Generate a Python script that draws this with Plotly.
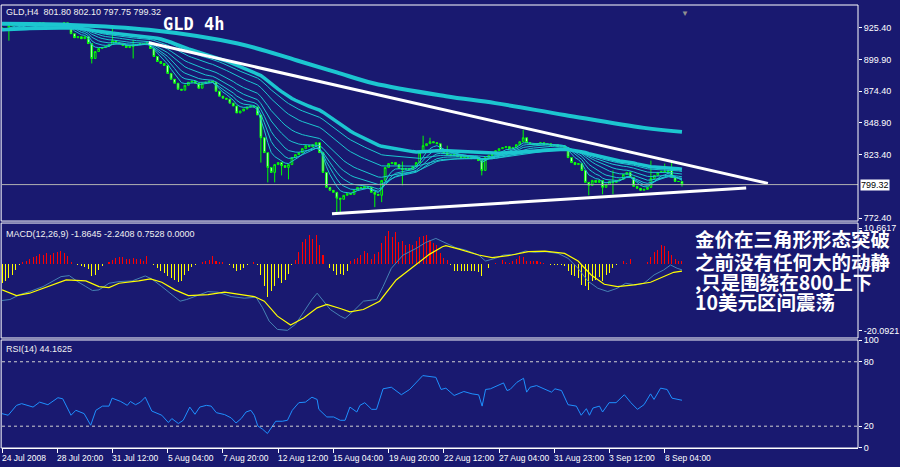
import numpy as np
import pandas as pd
import plotly.graph_objects as go

# ---------------- data ----------------
tick_bars = [0, 16, 32, 48, 64, 80, 96, 112, 128, 144, 160, 176, 192]
tick_labels = ["24 Jul 2008", "28 Jul 20:00", "31 Jul 12:00", "5 Aug 04:00", "7 Aug 20:00",
               "12 Aug 12:00", "15 Aug 04:00", "19 Aug 20:00", "22 Aug 12:00", "27 Aug 04:00",
               "31 Aug 23:00", "3 Sep 12:00", "8 Sep 04:00"]

first_open = 925.4
closes = [
    923.8, 924.6, 927.0, 927.8, 928.6, 927.8, 928.6, 929.4, 928.6, 927.8,
    928.6, 929.4, 928.6, 927.8, 928.6, 928.6, 927.8, 928.6, 929.4, 927.0,
    920.6, 917.4, 918.2, 916.6, 918.2, 912.7, 900.7, 906.3, 908.7, 909.5,
    910.3, 911.9, 915.0, 913.4, 912.7, 911.1, 909.5, 910.3, 911.1, 911.9,
    912.7, 911.9, 913.4, 908.7, 902.3, 898.3, 896.7, 895.1, 888.7, 884.0,
    880.8, 876.0, 875.2, 879.2, 881.6, 882.4, 880.8, 876.8, 880.8, 881.6,
    882.4, 881.6, 874.4, 870.4, 868.8, 868.0, 864.8, 862.5, 856.9, 858.5,
    860.1, 861.7, 862.5, 861.7, 855.3, 837.0, 825.0, 813.1, 809.1, 815.4,
    817.0, 814.6, 813.1, 815.4, 821.0, 823.4, 825.0, 828.2, 830.6, 829.8,
    831.4, 833.0, 825.0, 809.1, 797.1, 794.7, 793.1, 788.4, 787.5, 790.7,
    792.3, 791.5, 794.7, 797.1, 796.3, 797.9, 797.1, 793.1, 791.5, 790.7,
    802.7, 813.1, 816.2, 817.0, 815.4, 812.3, 811.5, 812.3, 811.5, 813.9,
    817.0, 825.0, 830.6, 832.2, 833.8, 833.0, 832.2, 826.6, 825.0, 823.4,
    822.6, 823.4, 821.8, 821.0, 821.8, 821.0, 820.2, 821.0, 818.6, 810.7,
    821.0, 822.6, 823.4, 826.6, 828.2, 829.0, 829.8, 828.2, 829.0, 831.4,
    833.8, 837.0, 833.0, 832.2, 831.4, 832.2, 833.0, 831.4, 832.2, 830.6,
    831.4, 829.8, 830.6, 829.0, 821.0, 817.0, 815.4, 816.2, 810.7, 801.1,
    798.7, 802.7, 801.1, 802.7, 797.1, 799.5, 801.9, 801.1, 802.7, 803.5,
    807.5, 809.1, 805.1, 797.9, 796.3, 794.7, 795.5, 797.1, 804.3, 806.7,
    809.1, 809.9, 809.1, 810.7, 805.1, 801.9, 801.8, 799.32,
]

high_bars = [32, 38, 116, 122, 124, 129, 151, 177, 188, 192, 194, 197]
high_vals = [924.6, 915.8, 817.8, 838.6, 837.0, 830.6, 843.3, 810.7, 818.6, 816.2, 817.0, 802.10]
low_bars = [2, 26, 38, 75, 77, 79, 81, 83, 97, 98, 108, 110, 116, 139, 170, 174, 177, 197]
low_vals = [915.0, 896.7, 900.7, 817.0, 801.1, 801.1, 806.7, 803.5, 777.2, 777.2, 781.2, 785.2,
            798.7, 806.7, 790.7, 791.5, 791.5, 797.75]

ribbon_spans = [5, 8, 12, 18, 26, 38, 50]
thick_span = 60

long_ma_bars = [0, 18.7, 42.5, 68.3, 85.5, 97, 107.6, 128.6, 142.9, 163, 186, 197]
long_ma_vals = [928.6, 927.8, 923.8, 912.7, 899.1, 889.5, 880.8, 870.4, 864.8, 855.3, 844.9, 841.7]

trend_hi_bars = [42.5, 221.9]
trend_hi_vals = [913.4, 800.3]
trend_lo_bars = [95.6, 215.6]
trend_lo_vals = [775.8, 796.6]

price_ticks = [925.40, 899.90, 874.40, 848.90, 823.40, 772.40]
last_price = 799.32

macd_hist = [
    -5.8, -5.1, -4.3, -3.3, -1.8, -0.5, 0.5, 0.9, 1.5, 1.9,
    2.2, 2.9, 2.5, 3.1, 2.7, 3.2, 3.5, 3.7, 3.2, 2.2,
    0.5, -0.1, -0.5, -0.8, -1.1, -1.5, -3.8, -3.3, -1.8, -0.8,
    -0.1, 0.5, 1.2, 1.7, 2.1, 1.9, 1.5, 1.5, 1.7, 1.4,
    1.5, 0.9, 2.2, 0.0, -0.5, -1.3, -2.1, -2.8, -3.8, -4.3,
    -4.8, -5.5, -5.1, -3.5, -2.1, -1.1, -0.5, -0.1, 0.5, 0.9,
    1.2, 2.2, 0.9, 0.5, 0.5, -0.1, -0.5, -1.3, -2.1, -1.8,
    -1.3, -0.5, 0.0, 0.5, -0.5, -3.3, -6.8, -10.0, -8.3, -6.8,
    -4.3, -5.8, -4.8, -3.1, -0.3, 1.2, 3.5, 6.5, 7.5, 8.7,
    7.5, 8.7, 5.7, 2.7, 0.0, -1.3, -2.3, -3.3, -3.1, -3.5,
    -2.3, 0.7, 1.5, 1.7, 2.7, 3.9, 3.2, 1.5, 2.9, 3.5,
    6.2, 8.2, 9.7, 7.9, 9.5, 6.5, 6.9, 5.7, 5.9, 5.5,
    6.7, 7.9, 8.2, 8.5, 7.2, 6.2, 5.5, 3.2, 1.7, 1.2,
    -0.3, -2.3, -2.1, -2.3, -2.1, -2.3, -2.1, -2.3, -2.5, -3.8,
    -0.1, -1.3, 0.0, 0.2, 0.0, 1.2, 0.5, 0.2, 0.7, 1.5,
    2.2, 1.9, 0.9, 0.9, 0.7, 0.9, 0.5, 0.2, -0.1, -0.3,
    -0.3, -0.5, -0.5, -0.8, -2.3, -3.5, -3.8, -4.3, -6.3, -6.8,
    -7.8, -5.3, -4.8, -4.1, -5.1, -3.3, -2.8, -1.3, -0.3, 0.0,
    0.9, 0.2, 1.5, -0.1, -0.1, 0.0, 0.0, 0.5, 1.9, 3.5,
    4.2, 5.5, 5.2, 3.9, 2.5, 1.5, 0.9, 0.7528,
]

macd_main_bars = [0, 2.3, 5.2, 8, 11.9, 14.7, 17.1, 19.5, 21.9, 24.3, 26.2, 28.1, 31, 33.9, 37.7,
                  41.5, 43.4, 46.3, 49.2, 51.6, 53.5, 55.9, 59.7, 62.6, 66.4, 70.2, 73.6, 75.5,
                  77.4, 79.8, 82.7, 85, 87.5, 89.8, 91.3, 93.2, 95.1, 98, 99.4, 101.8, 104.7,
                  108.5, 110.4, 112.8, 116.2, 120, 122.8, 125.7, 128.6, 131.5, 134.3, 138.1,
                  140.1, 142.9, 145.3, 148.7, 151.6, 154.4, 157.3, 161.1, 164, 166.9, 169.7,
                  172.6, 175.5, 178.3, 180.7, 183.6, 186, 188.9, 191.7, 193.7, 195.6, 197]
macd_main = [-11.1, -10.8, -9.3, -8.4, -6.9, -5.4, -3.9, -3.6, -5.4, -6.9, -8.1, -7.9, -5.9,
             -5.4, -5.2, -3.7, -4.6, -6.9, -9.3, -11.3, -10.8, -9.9, -8.4, -8.6, -9.9, -10.4,
             -10.1, -13.3, -17.3, -19.8, -20.09, -18.3, -14.3, -10.8, -8.9, -11.3, -13.8, -15.8,
             -16.5, -14.3, -11.3, -10.8, -6.9, -1.4, 2.6, 4.6, 6.4, 7.6, 6.1, 4.8, 4.1, 2.6,
             0.8, 1.6, 2.6, 2.8, 3.8, 3.4, 3.6, 3.1, 1.6, -1.4, -5.2, -7.4, -8.4, -7.4, -5.9,
             -6.4, -5.9, -3.4, -1.9, -0.4, -1.4, -1.8645]

macd_sig_bars = [0, 4.2, 8, 13.8, 18.6, 24.3, 28.1, 31, 33.9, 39.6, 43, 46.3, 50.1, 54, 59.7,
                 64.5, 69.3, 73.1, 76, 79.8, 83.6, 87.5, 91.3, 94.1, 98, 100.8, 104.7, 109.4,
                 114.2, 120, 123.8, 127.6, 128.6, 132.4, 138.1, 142, 147.7, 152.5, 157.3, 163,
                 166.9, 170.7, 174.5, 178.3, 183.1, 187.9, 191.7, 194.6, 197]
macd_signal = [-7.9, -9.6, -8.9, -6.6, -4.9, -5.2, -6.9, -7.2, -5.9, -5.2, -4.6, -5.6, -7.9,
               -9.6, -9.3, -8.6, -9.3, -9.9, -11.3, -15.8, -18.5, -16.3, -13.3, -12.3, -13.5,
               -14.5, -13.8, -11.3, -4.9, -0.4, 2.8, 5.1, 5.4, 4.4, 2.6, 1.8, 2.6, 3.6, 3.8,
               3.1, 0.8, -3.4, -6.2, -6.9, -6.4, -5.6, -3.9, -2.6, -2.2408]
macd_ticks = [10.6617, 0.0, -20.0921]

rsi_bars = [0, 1.8, 4.2, 5.7, 9.0, 10.9, 13.3, 16.2, 17.6, 20.0, 21.4, 23.8, 25.7, 27.2, 29.1,
            31.0, 31.9, 34.4, 36.3, 37.2, 38.7, 40.1, 41.5, 43.4, 46.3, 48.2, 49.2, 51.1, 52.5,
            54.4, 55.9, 57.3, 59.2, 60.6, 62.1, 64.5, 66.4, 67.8, 69.3, 70.7, 72.1, 73.1, 74.1,
            75.5, 76.9, 78.4, 79.3, 81.2, 82.7, 84.1, 85.0, 86.0, 87.9, 89.8, 91.3, 91.8, 94.1,
            96.1, 98.0, 99.4, 100.8, 102.8, 103.7, 105.1, 107.1, 108.5, 110.4, 112.8, 115.7,
            118.1, 121.9, 125.7, 127.2, 128.6, 131.0, 133.8, 136.2, 138.1, 139.1, 140.1, 141.5,
            143.4, 145.3, 146.3, 147.2, 149.2, 151.1, 152.0, 153.0, 154.9, 156.8, 159.2, 160.2,
            162.1, 164.0, 166.4, 167.8, 169.3, 170.2, 171.2, 173.1, 174.0, 175.9, 177.9, 180.3,
            182.2, 184.1, 186.0, 187.9, 188.9, 190.8, 192.7, 194.1, 196.5, 197.0]
rsi_vals = [31.7, 30.2, 39.4, 41.0, 37.8, 42.4, 40.0, 46.5, 45.5, 30.2, 34.8, 31.7, 20.9, 34.8,
            38.7, 38.7, 46.1, 43.0, 39.4, 43.0, 40.0, 42.4, 47.0, 34.1, 30.2, 23.4, 27.1, 22.5,
            25.5, 37.8, 31.1, 37.8, 39.4, 38.7, 32.6, 30.8, 27.7, 23.0, 27.1, 33.2, 34.8, 30.2,
            20.3, 17.2, 13.2, 20.9, 24.6, 24.6, 25.5, 34.8, 37.8, 41.9, 42.4, 47.0, 44.9, 35.7,
            28.6, 28.6, 25.5, 25.5, 37.8, 33.2, 39.4, 41.9, 35.7, 35.7, 54.8, 56.3, 49.3, 54.2,
            67.1, 65.5, 54.2, 55.4, 48.6, 52.3, 50.1, 49.2, 38.7, 54.2, 54.8, 57.2, 60.3, 53.2,
            54.2, 60.9, 64.6, 51.7, 56.3, 57.8, 54.8, 51.7, 54.8, 53.2, 40.0, 38.7, 30.2, 36.3,
            30.2, 36.9, 38.7, 33.2, 41.9, 41.9, 49.3, 41.9, 35.7, 40.0, 50.1, 44.9, 55.4, 54.2,
            46.1, 44.9, 44.1625]
rsi_levels = [80, 20]
rsi_ticks = [100, 80, 20, 0]

cn_lines = ["金价在三角形形态突破", "之前没有任何大的动静", ",只是围绕在800上下", "10美元区间震荡"]

# ---------------- derived ----------------
n = len(closes)
idx = np.arange(n)
c = np.array(closes)
o = np.concatenate([[first_open], c[:-1]])
h = np.maximum(o, c)
l = np.minimum(o, c)
for b, v in zip(high_bars, high_vals):
    h[b] = max(h[b], v)
for b, v in zip(low_bars, low_vals):
    l[b] = min(l[b], v)

BG = "#191970"
CYAN = "#1CC6D0"
WHITE = "#FFFFFF"
FONT = "Liberation Sans"

fig = go.Figure()

s = pd.Series(c)
for sp in ribbon_spans:
    fig.add_trace(go.Scatter(x=idx, y=s.ewm(span=sp, adjust=False).mean(), mode="lines",
                             line=dict(color=CYAN, width=1), yaxis="y", hoverinfo="skip"))
fig.add_trace(go.Scatter(x=idx, y=s.ewm(span=thick_span, adjust=False).mean(), mode="lines",
                         line=dict(color=CYAN, width=3.5), yaxis="y", hoverinfo="skip"))
fig.add_trace(go.Scatter(x=long_ma_bars, y=long_ma_vals, mode="lines", line_shape="spline",
                         line=dict(color=CYAN, width=4), yaxis="y", hoverinfo="skip"))

fig.add_trace(go.Scatter(x=trend_hi_bars, y=trend_hi_vals, mode="lines",
                         line=dict(color=WHITE, width=3), yaxis="y"))
fig.add_trace(go.Scatter(x=trend_lo_bars, y=trend_lo_vals, mode="lines",
                         line=dict(color=WHITE, width=3), yaxis="y"))

fig.add_trace(go.Candlestick(x=idx, open=o, high=h, low=l, close=c, yaxis="y",
                             increasing=dict(line=dict(color="#00FF00", width=1), fillcolor=BG),
                             decreasing=dict(line=dict(color="#00FF00", width=1), fillcolor=WHITE),
                             whiskerwidth=0))

hist_colors = ["#FF0000" if v > 0 else "#FFFF00" for v in macd_hist]
fig.add_trace(go.Bar(x=idx, y=macd_hist, width=0.3, marker=dict(color=hist_colors, line_width=0),
                     yaxis="y2"))
fig.add_trace(go.Scatter(x=macd_main_bars, y=macd_main, mode="lines",
                         line=dict(color="#4682B4", width=1), yaxis="y2"))
fig.add_trace(go.Scatter(x=macd_sig_bars, y=macd_signal, mode="lines",
                         line=dict(color="#FFFF00", width=1.2), yaxis="y2"))

fig.add_trace(go.Scatter(x=rsi_bars, y=rsi_vals, mode="lines",
                         line=dict(color="#1E90FF", width=1), yaxis="y3"))

H = 447.0
def fy(py):
    return (448 - py) / H
def fx(px):
    return (px - 2) / 864.0

shapes = []
shapes.append(dict(type="line", xref="paper", x0=0, x1=1, yref="y", y0=last_price, y1=last_price,
                   line=dict(color="#B0B0B0", width=1)))
for lv in rsi_levels:
    shapes.append(dict(type="line", xref="paper", x0=0, x1=1, yref="y3", y0=lv, y1=lv,
                       line=dict(color="#D0D0D0", width=1, dash="3px,3px")))
for top, bot in [(1, 219), (221, 337), (339, 448)]:
    shapes.append(dict(type="rect", xref="paper", yref="paper", x0=-0.001, x1=1,
                       y0=fy(bot), y1=fy(top), line=dict(color=WHITE, width=1), layer="above"))

ann = []
ann.append(dict(text="GLD,H4  801.80 802.10 797.75 799.32", xref="paper", yref="paper",
                x=fx(4), y=fy(8), xanchor="left", yanchor="middle", showarrow=False,
                font=dict(family=FONT, size=9, color="#F0F0F0")))
ann.append(dict(text="GLD 4h", xref="paper", yref="paper", x=fx(162), y=fy(20),
                xanchor="left", yanchor="middle", showarrow=False,
                font=dict(family="DejaVu Sans Mono", size=17, color=WHITE, weight="bold")))
ann.append(dict(text="MACD(12,26,9) -1.8645 -2.2408 0.7528 0.0000", xref="paper", yref="paper",
                x=fx(4), y=fy(232), xanchor="left", yanchor="middle", showarrow=False,
                font=dict(family=FONT, size=9, color="#F0F0F0")))
ann.append(dict(text="RSI(14) 44.1625", xref="paper", yref="paper",
                x=fx(4), y=fy(348), xanchor="left", yanchor="middle", showarrow=False,
                font=dict(family=FONT, size=9, color="#F0F0F0")))
for b, t in zip(tick_bars, tick_labels):
    ann.append(dict(text=t, xref="x", yref="paper", x=b, y=fy(458), xanchor="left",
                    yanchor="middle", showarrow=False, xshift=-2,
                    font=dict(family=FONT, size=8.5, color=WHITE)))
ann.append(dict(text="799.32", xref="paper", yref="y", x=1, y=last_price, xanchor="left",
                yanchor="middle", showarrow=False, xshift=2, bgcolor=WHITE, borderpad=0,
                font=dict(family=FONT, size=9, color="#000000")))
ann.append(dict(text="▼", xref="x", yref="paper", x=n - 1 + 0.8, y=1, yanchor="top",
                showarrow=False, font=dict(size=8, color="#909090")))
for line, py in zip(cn_lines, [236.5, 259.5, 280.5, 300.5]):
    ann.append(dict(text=line, xref="paper", yref="paper", x=fx(699), y=fy(py),
                    xanchor="left", yanchor="middle", showarrow=False,
                    font=dict(family="Noto Sans CJK SC", size=19.5, color=WHITE, weight="bold")))

tickfont = dict(family=FONT, size=9, color=WHITE)
fig.update_layout(
    width=900, height=467,
    margin=dict(l=2, r=34, t=1, b=19),
    paper_bgcolor=BG, plot_bgcolor=BG,
    showlegend=False, bargap=0, hovermode=False,
    shapes=shapes, annotations=ann,
    xaxis=dict(range=[0, 248], anchor="y3", showgrid=False, zeroline=False,
               showticklabels=False, tickvals=tick_bars, ticks="outside", ticklen=4,
               tickcolor=WHITE, showline=True, linecolor=WHITE,
               rangeslider=dict(visible=False)),
    yaxis=dict(domain=[fy(218), fy(1)], range=[770.8, 943.7], side="right", anchor="x",
               tickvals=price_ticks, ticktext=[f"{v:.2f}" for v in price_ticks],
               ticks="outside", ticklen=3, tickcolor=WHITE, tickfont=tickfont,
               showgrid=False, zeroline=False),
    yaxis2=dict(domain=[fy(336), fy(222)], range=[-22.09, 11.94], side="right", anchor="x",
                tickvals=macd_ticks, ticktext=["10.6617", "0.00", "-20.0921"],
                ticks="outside", ticklen=3, tickcolor=WHITE, tickfont=tickfont,
                showgrid=False, zeroline=False),
    yaxis3=dict(domain=[0, fy(338)], range=[-0.3, 101.2], side="right", anchor="x",
                tickvals=rsi_ticks, ticktext=[str(v) for v in rsi_ticks],
                ticks="outside", ticklen=3, tickcolor=WHITE, tickfont=tickfont,
                showgrid=False, zeroline=False),
)

fig.write_html("out.html", config={"displayModeBar": False, "staticPlot": True},
               post_script="document.body.style.margin='0';document.body.style.background='#191970';")
